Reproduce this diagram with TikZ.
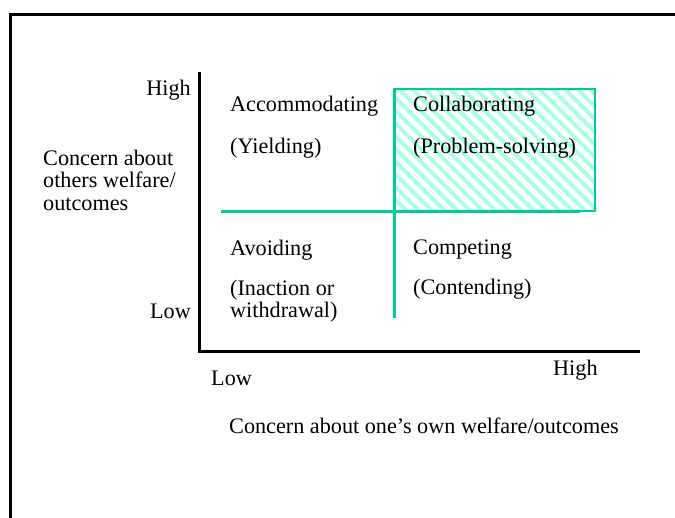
\documentclass[tikz,border=0pt]{standalone}
\usepackage{fontspec}
\setmainfont{Liberation Serif}
\usetikzlibrary{patterns.meta}
\definecolor{grn}{RGB}{0,204,153}
\definecolor{hatch}{RGB}{170,255,230}
\tikzset{
  lbl/.style={anchor=west, inner sep=0pt, align=left, font=\fontsize{22.2}{22.5}\selectfont},
  rlbl/.style={anchor=east, inner sep=0pt, font=\fontsize{22.2}{22.5}\selectfont},
  frame/.style={line width=3pt, black},
  axis/.style={line width=3pt, black},
  gline/.style={line width=3pt, grn},
}
\begin{document}
\begin{tikzpicture}[x=1pt,y=-1pt]
\useasboundingbox (0,0) rectangle (675,517);
% outer frame
\draw[frame] (10,530) -- (10,14) -- (690,14);
% hatched quadrant
\fill[pattern={Lines[angle=-45,distance=9pt,line width=4pt]}, pattern color=hatch] (394,89) rectangle (595,211);
\draw[line width=2pt, grn] (394,89) rectangle (595,211);
% green dividers
\coordinate (hl) at (221,211);
\coordinate (hr) at (580,211);
\coordinate (vt) at (394,89);
\coordinate (vb) at (394,318);
\draw[gline] (hl) -- (hr);
\draw[gline] (vt) -- (vb);
% axes
\coordinate (ytop) at (199,72);
\coordinate (orig) at (199,351);
\coordinate (xend) at (640,351);
\draw[axis] (ytop) -- (orig) -- (xend);
% labels
\node[rlbl] (yhigh) at (191,90) {High};
\node[rlbl] (ylow) at (191,311) {Low};
\node[lbl] (ylab) at (43,180) {Concern about\\others welfare/\\outcomes};
\node[lbl] (acc) at (230,106) {Accommodating};
\node[lbl] (yie) at (230,148) {(Yielding)};
\node[lbl] (col) at (413,106) {Collaborating};
\node[lbl] (prob) at (413,148) {(Problem-solving)};
\node[lbl] (avo) at (230,250) {Avoiding};
\node[lbl] (inac) at (230,301) {(Inaction or\\withdrawal)};
\node[lbl] (comp) at (413,250) {Competing};
\node[lbl] (cont) at (413,289) {(Contending)};
\node[lbl] (xlow) at (211,378) {Low};
\node[lbl] (xhigh) at (553,370) {High};
\node[lbl] (xlab) at (229,426) {Concern about one’s own welfare/outcomes};
\end{tikzpicture}
\end{document}
